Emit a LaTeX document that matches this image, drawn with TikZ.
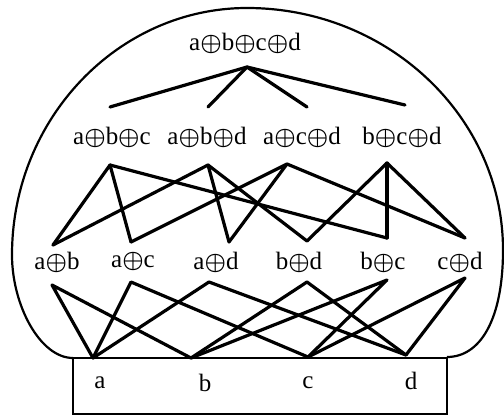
\documentclass[tikz,border=0pt]{standalone}
\usepackage{fontspec}
\setmainfont{Liberation Serif}
\newlength{\du}
\setlength{\du}{0.5pt}
\newcommand{\op}{\ensuremath{\mathord{\oplus}}}

\begin{document}
\begin{tikzpicture}[
  lbl/.style={inner sep=0pt,font=\fontsize{12.5}{14}\selectfont\boldmath},
  edge/.style={line width=1.6pt,line cap=round,line join=round},
  rim/.style={line width=1.1pt}]
\pgftransformxscale{1.000000}
\pgftransformyscale{-1.000000}
\useasboundingbox (0\du,0\du) rectangle (504\du,417\du);
% outer curve and base box
\draw[rim] (73\du,358\du) .. controls (40\du,358\du) and (12\du,305\du) .. (12\du,255\du)
  .. controls (12\du,119\du) and (118\du,8\du) .. (247\du,8\du)
  .. controls (388\du,8\du) and (503\du,117\du) .. (503\du,250\du)
  .. controls (503\du,320\du) and (480\du,357\du) .. (447\du,357\du);
\draw[rim] (73\du,358\du) rectangle (447\du,414\du);
% setfont left to latex
\node[lbl] (abcd) at (245\du,43\du) {a\op b\op c\op d};
\node[lbl] (abc) at (112\du,137\du) {a\op b\op c};
\node[lbl] (abd) at (207\du,137\du) {a\op b\op d};
\node[lbl] (acd) at (302\du,137\du) {a\op c\op d};
\node[lbl] (bcd) at (402\du,137\du) {b\op c\op d};
\node[lbl] (ab) at (57\du,262\du) {a\op b};
\node[lbl] (ac) at (133\du,262\du) {a\op c};
\node[lbl] (ad) at (216\du,262\du) {a\op d};
\node[lbl] (bd) at (299\du,262\du) {b\op d};
\node[lbl] (bc) at (383\du,262\du) {b\op c};
\node[lbl] (cd) at (460\du,262\du) {c\op d};
\node[lbl] (a) at (100\du,383\du) {a};
\node[lbl] (b) at (205\du,383\du) {b};
\node[lbl] (c) at (308\du,383\du) {c};
\node[lbl] (d) at (411\du,381\du) {d};
% end points of the lines
\coordinate (abcd-s) at (247\du,67\du);
\coordinate (abc-n) at (110\du,107\du);
\coordinate (abd-n) at (208\du,107\du);
\coordinate (acd-n) at (307\du,107\du);
\coordinate (bcd-n) at (405\du,105\du);
\coordinate (abc-s) at (110\du,165\du);
\coordinate (abd-s) at (208\du,165\du);
\coordinate (acd-s) at (287\du,164\du);
\coordinate (bcd-s) at (387\du,163\du);
\coordinate (ab-n) at (53\du,245\du);
\coordinate (ac-n) at (131\du,242\du);
\coordinate (ad-n) at (229\du,242\du);
\coordinate (bd-n) at (307\du,241\du);
\coordinate (bc-n) at (387\du,238\du);
\coordinate (cd-n) at (465\du,238\du);
\coordinate (ab-s) at (52\du,285\du);
\coordinate (ac-s) at (131\du,282\du);
\coordinate (ad-s) at (209\du,282\du);
\coordinate (bd-s) at (307\du,282\du);
\coordinate (bc-s) at (387\du,280\du);
\coordinate (cd-s) at (465\du,278\du);
\coordinate (a-n) at (93\du,358\du);
\coordinate (b-n) at (191\du,358\du);
\coordinate (c-n) at (308\du,357\du);
\coordinate (d-n) at (406\du,355\du);
% top level
\draw[edge] (abc-n) -- (abcd-s) -- (bcd-n);
\draw[edge] (abd-n) -- (abcd-s) -- (acd-n);
% three terms to two terms
\draw[edge] (ab-n) -- (abc-s) -- (ac-n);
\draw[edge] (abc-s) -- (bc-n);
\draw[edge] (ab-n) -- (abd-s) -- (ad-n);
\draw[edge] (abd-s) -- (bd-n);
\draw[edge] (ac-n) -- (acd-s) -- (ad-n);
\draw[edge] (acd-s) -- (cd-n);
\draw[edge] (bd-n) -- (bcd-s) -- (cd-n);
\draw[edge] (bcd-s) -- (bc-n);
% two terms to one term
\draw[edge] (a-n) -- (ab-s) -- (b-n);
\draw[edge] (a-n) -- (ac-s) -- (c-n);
\draw[edge] (a-n) -- (ad-s) -- (d-n);
\draw[edge] (b-n) -- (bd-s) -- (d-n);
\draw[edge] (b-n) -- (bc-s) -- (c-n);
\draw[edge] (c-n) -- (cd-s) -- (d-n);
\end{tikzpicture}
\end{document}
